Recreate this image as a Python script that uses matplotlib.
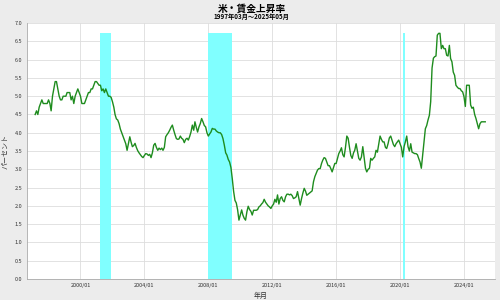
import matplotlib
matplotlib.use("Agg")
import matplotlib.pyplot as plt
import matplotlib.dates as mdates
import pandas as pd

plt.rcParams['font.family'] = ['Noto Sans CJK JP', 'DejaVu Sans']

# wage growth (%), monthly 1997/03 - 2025/05
wage_1997 = [4.5, 4.6, 4.5, 4.7, 4.8, 4.9, 4.8, 4.8, 4.8, 4.8]
wage_1998 = [4.9, 4.8, 4.6, 5.0, 5.2, 5.4, 5.4, 5.2, 5.0, 4.9, 4.9, 5.0]
wage_1999 = [5.0, 5.0, 5.1, 5.1, 5.1, 4.9, 5.0, 4.8, 5.0, 5.1, 5.2, 5.1]
wage_2000 = [5.0, 4.8, 4.8, 4.8, 4.9, 5.0, 5.1, 5.1, 5.2, 5.2, 5.3, 5.4]
wage_2001 = [5.4, 5.35, 5.3, 5.3, 5.15, 5.2, 5.1, 5.2, 5.1, 5.0, 5.0, 4.97]
wage_2002 = [4.85, 4.7, 4.5, 4.38, 4.35, 4.25, 4.1, 4.0, 3.9, 3.8, 3.7, 3.52]
wage_2003 = [3.7, 3.89, 3.75, 3.62, 3.65, 3.71, 3.6, 3.51, 3.45, 3.4, 3.35, 3.32]
wage_2004 = [3.38, 3.43, 3.42, 3.38, 3.41, 3.32, 3.45, 3.66, 3.71, 3.6, 3.52, 3.58]
wage_2005 = [3.54, 3.58, 3.52, 3.6, 3.89, 3.95, 4.0, 4.07, 4.15, 4.21, 4.07, 3.95]
wage_2006 = [3.84, 3.82, 3.83, 3.91, 3.85, 3.82, 3.73, 3.82, 3.85, 3.8, 3.9, 4.02]
wage_2007 = [4.21, 4.07, 4.3, 4.15, 4.02, 4.16, 4.25, 4.39, 4.3, 4.2, 4.16, 4.0]
wage_2008 = [3.91, 3.97, 4.02, 4.12, 4.1, 4.1, 4.05, 4.02, 4.0, 4.0, 3.95, 3.84]
wage_2009 = [3.66, 3.45, 3.39, 3.27, 3.2, 3.05, 2.75, 2.4, 2.15, 2.08, 1.89, 1.61]
wage_2010 = [1.75, 1.89, 1.75, 1.66, 1.61, 1.84, 1.99, 1.9, 1.85, 1.75, 1.88, 1.88]
wage_2011 = [1.88, 1.9, 1.97, 2.0, 2.05, 2.09, 2.18, 2.1, 2.05, 2.0, 1.97, 1.93]
wage_2012 = [2.0, 2.05, 2.18, 2.1, 2.3, 2.05, 2.2, 2.25, 2.15, 2.11, 2.25, 2.32]
wage_2013 = [2.32, 2.3, 2.32, 2.28, 2.2, 2.22, 2.25, 2.39, 2.2, 2.02, 2.2, 2.35]
wage_2014 = [2.48, 2.4, 2.29, 2.32, 2.35, 2.38, 2.41, 2.66, 2.8, 2.89, 2.98, 3.02]
wage_2015 = [3.02, 3.16, 3.25, 3.32, 3.3, 3.2, 3.1, 3.1, 3.02, 2.93, 3.05, 3.16]
wage_2016 = [3.16, 3.3, 3.43, 3.5, 3.59, 3.4, 3.34, 3.6, 3.91, 3.85, 3.6, 3.38]
wage_2017 = [3.3, 3.45, 3.52, 3.7, 3.5, 3.3, 3.25, 3.34, 3.62, 3.34, 3.03, 2.93]
wage_2018 = [3.0, 3.03, 3.3, 3.25, 3.3, 3.34, 3.52, 3.47, 3.7, 3.91, 3.82, 3.75]
wage_2019 = [3.75, 3.6, 3.57, 3.7, 3.86, 3.91, 3.8, 3.68, 3.62, 3.7, 3.75, 3.8]
wage_2020 = [3.7, 3.6, 3.34, 3.62, 3.75, 3.91, 3.62, 3.5, 3.7, 3.47, 3.45, 3.43]
wage_2021 = [3.43, 3.4, 3.3, 3.2, 3.03, 3.4, 3.75, 4.11, 4.2, 4.35, 4.48, 4.85]
wage_2022 = [5.77, 6.04, 6.08, 6.1, 6.67, 6.72, 6.72, 6.3, 6.39, 6.3, 6.3, 6.12]
wage_2023 = [6.1, 6.39, 6.03, 5.94, 5.66, 5.57, 5.3, 5.25, 5.21, 5.21, 5.15, 5.12]
wage_2024 = [4.99, 4.72, 5.3, 5.3, 5.3, 4.76, 4.67, 4.7, 4.5, 4.39, 4.25, 4.11]
wage_2025 = [4.25, 4.3, 4.3, 4.3, 4.3]

wage = (wage_1997 + wage_1998 + wage_1999 + wage_2000 + wage_2001 + wage_2002
        + wage_2003 + wage_2004 + wage_2005 + wage_2006 + wage_2007 + wage_2008
        + wage_2009 + wage_2010 + wage_2011 + wage_2012 + wage_2013 + wage_2014
        + wage_2015 + wage_2016 + wage_2017 + wage_2018 + wage_2019 + wage_2020
        + wage_2021 + wage_2022 + wage_2023 + wage_2024 + wage_2025)
dates = pd.date_range("1997-03-01", periods=len(wage), freq="MS")

# recession periods (first month, month after last)
recession_start = ["2001-04-01", "2008-01-01", "2020-03-01"]
recession_end = ["2001-12-01", "2009-07-01", "2020-05-01"]

tick_dates = pd.to_datetime(["2000-01-01", "2004-01-01", "2008-01-01", "2012-01-01",
                             "2016-01-01", "2020-01-01", "2024-01-01"])

fig = plt.figure(figsize=(5, 3), dpi=100, facecolor="#ececec")
ax = fig.add_axes([0.053, 0.07, 0.937, 0.853])
ax.set_facecolor("white")

band_top = max(wage)
for s, e in zip(recession_start, recession_end):
    ax.fill_between(pd.to_datetime([s, e]), 0, band_top, color="#80ffff", lw=0, zorder=1)

ax.plot(dates, wage, color="#1e8c1e", lw=1.0, zorder=3)

ax.set_xlim(pd.Timestamp("1996-08-15"), pd.Timestamp("2025-12-10"))
ax.set_ylim(0, 7)
ax.set_yticks([i * 0.5 for i in range(15)])
ax.yaxis.set_major_formatter(matplotlib.ticker.FormatStrFormatter("%.1f"))
ax.set_xticks(tick_dates)
ax.xaxis.set_major_formatter(mdates.DateFormatter("%Y/%m"))
ax.tick_params(labelsize=4, length=0, pad=3, colors="#333333")
ax.grid(True, color="#dddddd", lw=0.6, zorder=0)
ax.set_axisbelow(True)
for side in ["top", "right"]:
    ax.spines[side].set_visible(False)
for side in ["left", "bottom"]:
    ax.spines[side].set_color("#aaaaaa")
    ax.spines[side].set_linewidth(0.6)

ax.set_xlabel("年月", fontsize=5, labelpad=3, color="#333333")
ax.set_ylabel("パーセント", fontsize=5, labelpad=4, color="#333333")

fig.text(0.503, 0.972, "米・賃金上昇率", ha="center", va="center",
         fontsize=7, fontweight="bold")
fig.text(0.503, 0.945, "1997年03月～2025年05月", ha="center", va="center",
         fontsize=4.5, fontweight="bold")

fig.savefig("out.png", dpi=100, facecolor=fig.get_facecolor())
